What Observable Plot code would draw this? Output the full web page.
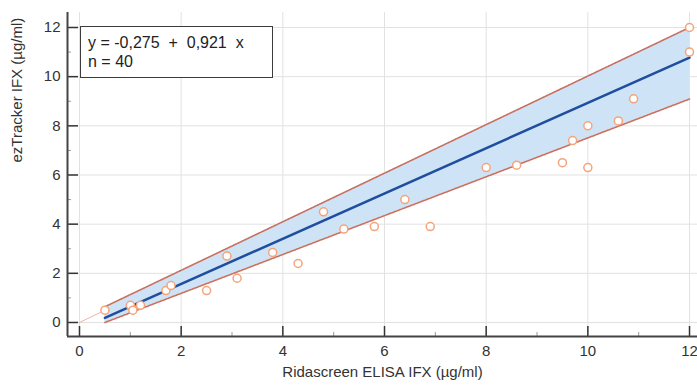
<!DOCTYPE html>
<html><head><meta charset="utf-8">
<script src="https://cdn.jsdelivr.net/npm/d3@7"></script>
<script src="https://cdn.jsdelivr.net/npm/@observablehq/plot@0.6"></script>
<style>
body{margin:0;background:#fff;font-family:"Liberation Sans",Arial,sans-serif}
#wrap{position:relative;width:697px;height:385px}
#legend{position:absolute;left:80px;top:26px;width:193px;height:52px;border:1.5px solid #3c3c3c;box-sizing:border-box;background:#fff;font-size:16px;color:#222;padding:6px 0 0 7px;line-height:19px;white-space:pre}
</style></head>
<body><div id="wrap"><div id="legend"></div></div>
<script>
// measured points
const xs = [0.5, 1.0, 1.05, 1.2, 1.7, 1.8, 2.5, 2.9, 3.1, 3.8, 4.3, 4.8, 5.2, 5.8, 6.4, 6.9, 8.0, 8.6, 9.5, 9.7, 10.0, 10.0, 10.6, 10.9, 12.0, 12.0];
const ys = [0.5, 0.7, 0.5, 0.7, 1.3, 1.5, 1.3, 2.7, 1.8, 2.85, 2.4, 4.5, 3.8, 3.9, 5.0, 3.9, 6.3, 6.4, 6.5, 7.4, 8.0, 6.3, 8.2, 9.1, 12.0, 11.0];
// regression (from the legend)
const intercept = -0.275, slope = 0.921, n = 40;
const fitX = [0.5, 12];
// confidence band edges
const bandX = [0.5, 12];
const bandLow = [0.0, 9.09];
const bandHigh = [0.64, 12.0];
// identity line
const idX = [0, 12];
const majorTicks = [0, 2, 4, 6, 8, 10, 12];
const minorTicks = [1, 3, 5, 7, 9, 11];
const xTitle = "Ridascreen ELISA IFX (µg/ml)";
const yTitle = "ezTracker IFX (µg/ml)";

const W = 697, H = 385, mL = 67, mR = 0, mT = 12, mB = 49;
const plotW = W - mL - mR, plotH = H - mT - mB;
const xDomain = [-0.236, 12.157], yDomain = [-0.57, 12.61];

const pts = xs.map((x, i) => ({x, y: ys[i]}));
const band = bandX.map((x, i) => ({x, lo: bandLow[i], hi: bandHigh[i]}));
const fit = fitX.map(x => ({x, y: intercept + slope * x}));
const ident = idX.map(x => ({x, y: x}));

const chart = Plot.plot({
  width: W, height: H, marginLeft: mL, marginRight: mR, marginTop: mT, marginBottom: mB,
  x: {domain: xDomain}, y: {domain: yDomain},
  style: {fontFamily: "'Liberation Sans', Arial, sans-serif", fontSize: "15px", color: "#333", background: "#fff"},
  marks: [
    Plot.ruleX(majorTicks, {x: d => d, stroke: "#e2e2e2", strokeWidth: 1}),
    Plot.ruleY(majorTicks, {y: d => d, stroke: "#e2e2e2", strokeWidth: 1}),
    Plot.line(ident, {x: "x", y: "y", stroke: "#f2b3a8", strokeWidth: 1}),
    Plot.areaY(band, {x: "x", y1: "lo", y2: "hi", fill: "#cfe3f6"}),
    Plot.line(band, {x: "x", y: "hi", stroke: "#c9705f", strokeWidth: 1.6, strokeDasharray: "1.5,1"}),
    Plot.line(band, {x: "x", y: "lo", stroke: "#c9705f", strokeWidth: 1.6, strokeDasharray: "1.5,1"}),
    Plot.line(fit, {x: "x", y: "y", stroke: "#1f4e9e", strokeWidth: 2.5}),
    Plot.dot(pts, {x: "x", y: "y", r: 4, stroke: "#f4a47c", strokeWidth: 1.5, fill: "#fff"}),
    Plot.tickX(majorTicks, {x: d => d, insetTop: plotH - 10, stroke: "#333", strokeWidth: 1.5}),
    Plot.tickX(minorTicks, {x: d => d, insetTop: plotH - 4, stroke: "#999", strokeWidth: 1}),
    Plot.tickY(majorTicks, {y: d => d, insetRight: plotW - 11, stroke: "#333", strokeWidth: 1.5}),
    Plot.tickY(minorTicks, {y: d => d, insetRight: plotW - 4, stroke: "#999", strokeWidth: 1}),
    Plot.ruleX([xDomain[0]], {stroke: "#444", strokeWidth: 2}),
    Plot.ruleY([yDomain[0]], {stroke: "#444", strokeWidth: 2}),
    Plot.axisX({ticks: majorTicks, tickSize: 0, tickPadding: 9, label: null, fill: "#333"}),
    Plot.axisY({ticks: majorTicks, tickSize: 0, tickPadding: 7, label: null, fill: "#333"}),
    Plot.text([xTitle], {frameAnchor: "bottom", dy: 40, fontSize: 15, fill: "#333"}),
    Plot.text([yTitle], {frameAnchor: "left", rotate: -90, dx: -50, dy: -12, fontSize: 15, fill: "#333"})
  ]
});
document.getElementById("wrap").prepend(chart);
document.getElementById("legend").textContent =
  `y = ${String(intercept).replace(".", ",")}  +  ${String(slope).replace(".", ",")}  x\nn = ${n}`;
</script>
</body></html>
